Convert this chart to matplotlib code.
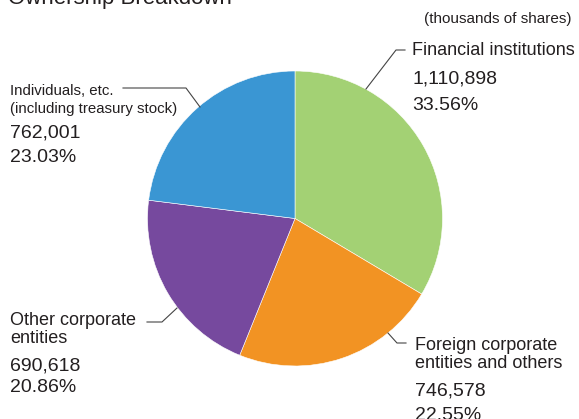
import matplotlib.pyplot as plt
from matplotlib.lines import Line2D

# Ownership breakdown (thousands of shares)
labels = ["Financial institutions", "Foreign corporate\nentities and others",
          "Other corporate\nentities", "Individuals, etc.\n(including treasury stock)"]
shares = [1110898, 746578, 690618, 762001]
pcts = ["33.56%", "22.55%", "20.86%", "23.03%"]
colors = ["#a3d174", "#f29323", "#76499e", "#3a96d3"]

W, H = 579, 419
fig = plt.figure(figsize=(W / 100, H / 100), dpi=100)


def fx(x):
    return x / W


def fy(y):
    return 1 - y / H


# pie centre (295, 218) radius ~147 px
cx, cy, r = 295, 218.5, 147.5
ax = fig.add_axes([fx(cx - r), fy(cy + r), 2 * r / W, 2 * r / H])
ax.pie(shares, colors=colors, startangle=90, counterclock=False,
       wedgeprops=dict(edgecolor="white", linewidth=0.4))
ax.set_xlim(-1, 1)
ax.set_ylim(-1, 1)
ax.axis("off")

font = "Liberation Sans"
tc = "#231f20"

fig.text(fx(8), fy(4), "Ownership Breakdown", fontsize=16, family=font,
         color=tc, va="baseline")
fig.text(fx(572), fy(23), "(thousands of shares)", fontsize=11, family=font,
         color=tc, va="baseline", ha="right")


def label(x, y_lines, lines):
    # lines: list of (text, size)
    for (t, s), y in zip(lines, y_lines):
        fig.text(fx(x), fy(y), t, fontsize=s, family=font, color=tc, va="baseline")


def num(v):
    return f"{v:,}"


label(412, [55, 83, 110],
      [("Financial institutions", 13), (num(shares[0]), 14), (pcts[0], 14)])
label(415, [350, 368, 395, 420],
      [("Foreign corporate", 13), ("entities and others", 13),
       (num(shares[1]), 14), (pcts[1], 14)])
label(10, [325, 343, 370, 392],
      [("Other corporate", 13), ("entities", 13),
       (num(shares[2]), 14), (pcts[2], 14)])
label(10, [95, 113, 138, 162],
      [("Individuals, etc.", 10.8), ("(including treasury stock)", 10.8),
       (num(shares[3]), 14), (pcts[3], 14)])

leaders = [
    [(366, 89), (396, 50), (405, 50)],
    [(388, 333), (397, 343), (406, 343)],
    [(177, 308), (162, 322), (147, 322)],
    [(200, 107), (186, 88), (123, 88)],
]
for pts in leaders:
    xs = [fx(p[0]) for p in pts]
    ys = [fy(p[1]) for p in pts]
    fig.add_artist(Line2D(xs, ys, color="#444444", lw=0.8))

fig.savefig("out.png", dpi=100)
